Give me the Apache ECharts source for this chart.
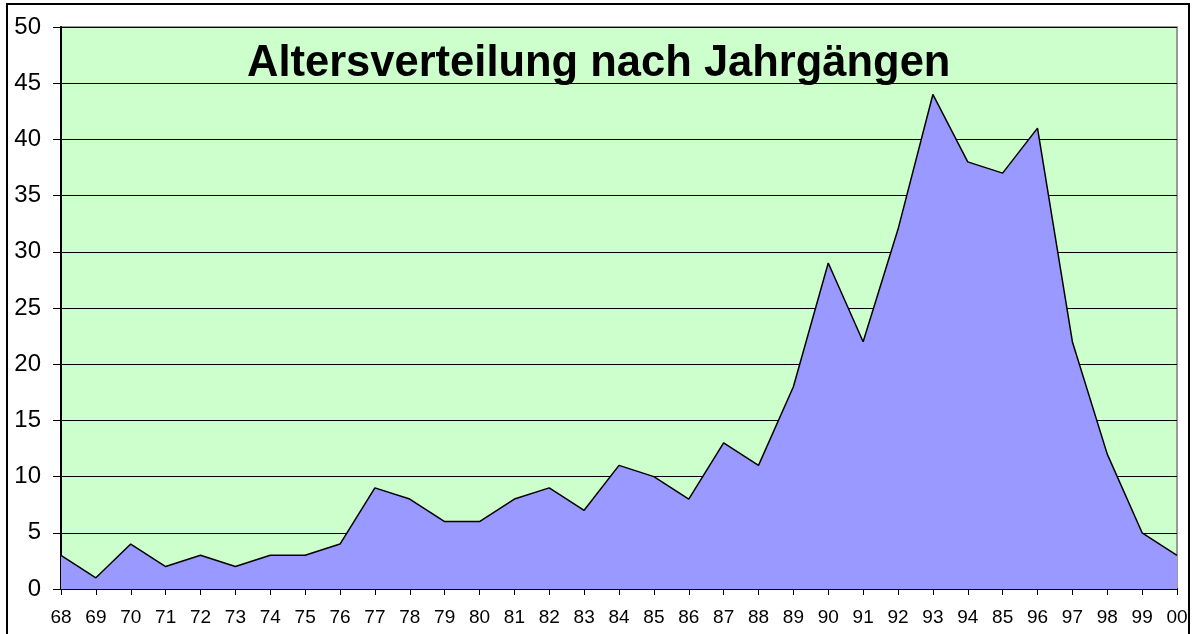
<!DOCTYPE html>
<html>
<head>
<meta charset="utf-8">
<script src="https://cdn.jsdelivr.net/npm/echarts@6/dist/echarts.min.js"></script>
<style>
  html, body { margin: 0; padding: 0; background: #fff; }
  #chart { width: 1194px; height: 634px; }
</style>
</head>
<body>
<div id="chart"></div>
<script>
(function () {
    'use strict';

    // Jahrgänge (Beschriftung wie im Original, inkl. "85" nach 94)
    var years = ['68', '69', '70', '71', '72', '73', '74', '75', '76', '77', '78',
                 '79', '80', '81', '82', '83', '84', '85', '86', '87', '88', '89',
                 '90', '91', '92', '93', '94', '85', '96', '97', '98', '99', '00'];

    // Anzahl pro Jahrgang
    var counts = [3, 1, 4, 2, 3, 2, 3, 3, 4, 9, 8,
                  6, 6, 8, 9, 7, 11, 10, 8, 13, 11, 18,
                  29, 22, 32, 44, 38, 37, 41, 22, 12, 5, 3];

    var yTicks = [0, 5, 10, 15, 20, 25, 30, 35, 40, 45, 50];

    var myChart = echarts.init(document.getElementById('chart'));

    var option = {
        animation: false,
        title: {
            text: 'Altersverteilung nach Jahrgängen',
            left: 242,
            top: 37,
            textStyle: {
                fontFamily: 'Liberation Sans, Arial, sans-serif',
                fontWeight: 'bold',
                fontSize: 43.5,
                color: '#000'
            }
        },
        graphic: [{
            type: 'rect',
            shape: { x: 7, y: 4, width: 1182, height: 650 },
            style: { fill: 'none', stroke: '#000', lineWidth: 2 },
            z: 100
        }],
        grid: {
            left: 61,
            top: 27,
            right: 17,
            bottom: 45,
            show: true,
            backgroundColor: '#CCFFCC',
            borderColor: '#999',
            borderWidth: 2
        },
        xAxis: {
            type: 'category',
            boundaryGap: false,
            data: years,
            axisLine: { lineStyle: { color: '#000', width: 2 } },
            axisTick: { show: true, length: 6, lineStyle: { color: '#000' } },
            axisLabel: {
                color: '#000',
                fontFamily: 'Liberation Sans, Arial, sans-serif',
                fontSize: 19,
                margin: 19,
                interval: 0
            },
            splitLine: { show: false }
        },
        yAxis: {
            type: 'value',
            min: yTicks[0],
            max: yTicks[yTicks.length - 1],
            interval: 5,
            axisLine: { show: true, lineStyle: { color: '#000', width: 2 } },
            axisTick: { show: true, length: 8, inside: false, lineStyle: { color: '#000' } },
            axisLabel: {
                color: '#000',
                fontFamily: 'Liberation Sans, Arial, sans-serif',
                fontSize: 24,
                margin: 20
            },
            splitLine: { show: true, lineStyle: { color: '#000', width: 1 } }
        },
        series: [{
            name: 'Anzahl',
            type: 'line',
            data: counts,
            symbol: 'none',
            lineStyle: { color: '#000', width: 1.5 },
            areaStyle: { color: '#9999FF', opacity: 1 },
            z: 3
        }]
    };

    myChart.setOption(option);
})();
</script>
</body>
</html>
